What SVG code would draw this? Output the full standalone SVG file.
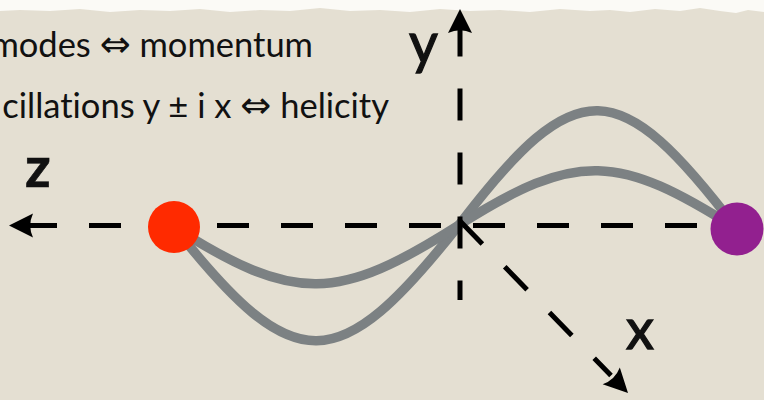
<svg xmlns="http://www.w3.org/2000/svg" xmlns:xlink="http://www.w3.org/1999/xlink" width="764" height="400" viewBox="0 0 764 400">
  <style>
    .txt { font-family: Lato, "Open Sans", "Liberation Sans", sans-serif; fill: #111; font-variant-ligatures: none; }
    .line { font-size: 34.5px; }
    .sym { font-family: "DejaVu Sans", sans-serif; font-size: 37px; }
    .lbl { font-size: 56px; stroke: #111; stroke-width: 1.3; }
    .bold { font-weight: bold; stroke-width: 0.6; }
    .axis { fill: none; stroke: #000; stroke-width: 5; stroke-dasharray: 32 32; }
    .wave { fill: none; stroke: #7c8183; stroke-width: 9.5; stroke-linecap: round; }
    .head { fill: #000; }
  </style>
  <defs>
    <path id="ah" d="M0,0 L-24,-12 Q-18.5,0 -24,12 Z"/>
  </defs>
  <rect x="0" y="0" width="764" height="400" fill="#e4dfd2"/>
  <path d="M0,0 H764 V12 L748,10 L736,13 L720,11 L700,8 L680,11 L655,9 L630,12 L610,10 L590,11 L560,9 L530,12 L500,10 L470,11 L440,9 L410,12 L380,10 L350,11 L320,8 L290,11 L260,10 L230,12 L200,9 L170,11 L140,10 L110,12 L80,9 L50,11 L20,10 L0,11 Z" fill="#fbfaf6"/>

  <text class="txt line" x="313" y="57" text-anchor="end">modes <tspan class="sym">⇔</tspan> momentum</text>
  <text class="txt line" x="389" y="118" text-anchor="end">cillations y ± i x <tspan class="sym">⇔</tspan> helicity</text>

  <g id="connectors">
    <path class="wave" d="M174,227 C295,380 338,378 459,225 C577,70 619,74 737,229"/>
    <path class="wave" d="M174,227 C295,304 338,302 459,225 C577,150 619,154 737,229"/>
    <path class="axis" d="M25,225.5 H712"/>
    <use href="#ah" class="head" transform="translate(9,225.5) rotate(180)"/>
    <path class="axis" d="M460,24.5 V300"/>
    <use href="#ah" class="head" transform="translate(460,9) rotate(-90)"/>
    <path class="axis" d="M460,221 L611,375.5"/>
    <use href="#ah" class="head" transform="translate(628,393) rotate(45.7)"/>
  </g>

  <g id="node-red">
    <circle cx="174" cy="227" r="26" fill="#ff2a00"/>
  </g>
  <g id="node-purple">
    <circle cx="737" cy="229" r="26.5" fill="#92208f"/>
  </g>

  <text class="txt lbl bold" x="25" y="187">z</text>
  <text class="txt lbl" x="409" y="63">y</text>
  <text class="txt lbl" x="626" y="349">x</text>
</svg>
